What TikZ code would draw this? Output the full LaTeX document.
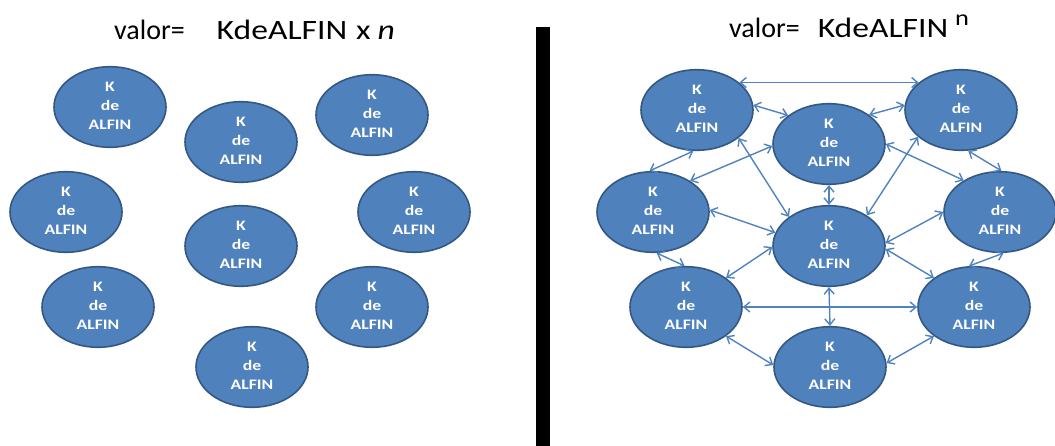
\documentclass[tikz,border=0pt]{standalone}
\usepackage{fontspec}
\usepackage{graphicx}
\setmainfont{Carlito}
\usetikzlibrary{arrows.meta,shapes.geometric}
\definecolor{ellfill}{RGB}{79,129,189}
\definecolor{elldraw}{RGB}{52,88,132}
\definecolor{arrowc}{RGB}{80,130,192}
\newcommand\kalfin{\scalebox{1.22}[1]{\fontsize{14.5}{19}\selectfont\bfseries\begin{tabular}{@{}c@{}}K\\de\\ALFIN\end{tabular}}}
\newcommand\wid[1]{\scalebox{1.2}[1]{#1}}
\tikzset{
  ell/.style={ellipse, fill=ellfill, draw=elldraw, line width=1.6pt, minimum width=112pt, minimum height=80pt, inner sep=0pt, text=white},
  conn/.style={draw=arrowc, line width=1.4pt, {Straight Barb[length=6pt,width=10pt]}-{Straight Barb[length=6pt,width=10pt]}},
  ttl/.style={anchor=base west, inner sep=0pt, font=\fontsize{28}{28}\selectfont}
}
\begin{document}
\begin{tikzpicture}[x=1pt,y=-1pt]
\useasboundingbox (0,0) rectangle (1055,446);
% titles
\node[ttl] (t1) at (114,40) {valor=\hspace{32pt}\wid{KdeALFIN}\hspace{9pt}\wid{x}\hspace{7pt}\wid{\textit{n}}};
\node[ttl] (t2) at (729,38) {valor=\hspace{18pt}\wid{KdeALFIN}\hspace{7pt}\raisebox{12pt}{\fontsize{22}{22}\selectfont\wid{n}}};
% divider
\fill[black] (536,27) rectangle (550,446);
% left side
\node[ell] (L1) at (110,107) {\kalfin};
\node[ell] (L2) at (241,142) {\kalfin};
\node[ell] (L3) at (372,115) {\kalfin};
\node[ell] (L4) at (66,212) {\kalfin};
\node[ell] (L5) at (241,246) {\kalfin};
\node[ell] (L6) at (414,212) {\kalfin};
\node[ell] (L7) at (98,307) {\kalfin};
\node[ell] (L8) at (372,307) {\kalfin};
\node[ell] (L9) at (252,367) {\kalfin};
% right side
\node[ell] (R1) at (697,110) {\kalfin};
\node[ell] (R2) at (829,144) {\kalfin};
\node[ell] (R3) at (961,110) {\kalfin};
\node[ell] (R4) at (653,212) {\kalfin};
\node[ell] (R5) at (829,246) {\kalfin};
\node[ell] (R6) at (1000,212) {\kalfin};
\node[ell] (R7) at (686,307) {\kalfin};
\node[ell] (R8) at (974,307) {\kalfin};
\node[ell] (R9) at (830,367) {\kalfin};
% connectors
\draw[conn] (R1.33) -- (R3.147);
\draw[conn] (R1.5) -- (R2.145);
\draw[conn] (R3.175) -- (R2.36);
\draw[conn] (R1.265) -- (R4.95);
\draw[conn] (R1.326) -- (R5.144);
\draw[conn] (R2.182) -- (R4.40);
\draw[conn] (R2.270) -- (R5.90);
\draw[conn] (R2.0) -- (R6.139);
\draw[conn] (R3.212) -- (R5.39);
\draw[conn] (R3.280) -- (R6.88);
\draw[conn] (R4.2) -- (R5.166);
\draw[conn] (R6.180) -- (R5.3);
\draw[conn] (R4.275) -- (R7.92);
\draw[conn] (R5.181) -- (R7.36);
\draw[conn] (R5.357) -- (R8.144);
\draw[conn] (R6.275) -- (R8.97);
\draw[conn] (R7.0) -- (R8.180);
\draw[conn] (R5.270) -- (R9.90);
\draw[conn] (R7.324) -- (R9.178);
\draw[conn] (R8.216) -- (R9.4);
\end{tikzpicture}
\end{document}
